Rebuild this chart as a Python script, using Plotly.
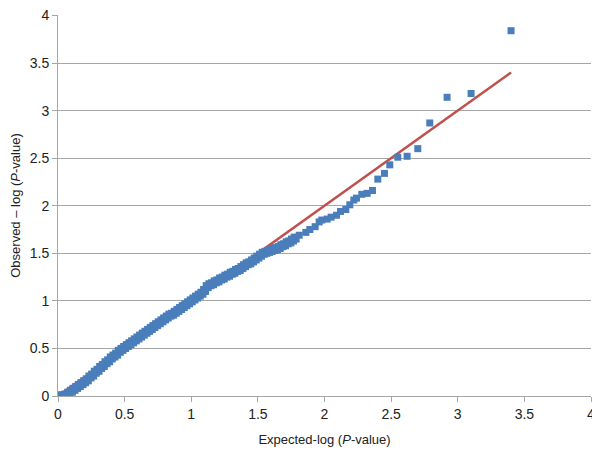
import plotly.graph_objects as go

# Bulk of the QQ points (dense band)
bulk_expected = [0.00, 0.02, 0.04, 0.06, 0.08, 0.10, 0.12, 0.14, 0.16, 0.18,
                 0.20, 0.22, 0.24, 0.26, 0.28, 0.30, 0.32, 0.34, 0.36, 0.38,
                 0.40, 0.42, 0.44, 0.46, 0.48, 0.50, 0.52, 0.54, 0.56, 0.58,
                 0.60, 0.62, 0.64, 0.66, 0.68, 0.70, 0.72, 0.74, 0.76, 0.78,
                 0.80, 0.82, 0.84, 0.86, 0.88, 0.90, 0.92, 0.94, 0.96, 0.98,
                 1.00, 1.02, 1.04, 1.06, 1.08, 1.10, 1.12, 1.14, 1.16, 1.18,
                 1.20, 1.22, 1.24, 1.26, 1.28, 1.30, 1.32, 1.34, 1.36, 1.38,
                 1.40, 1.42, 1.44, 1.46, 1.48, 1.50, 1.52, 1.54, 1.56, 1.58,
                 1.60, 1.62, 1.64, 1.66, 1.68, 1.70, 1.72, 1.74, 1.76, 1.78]
bulk_observed = [0.00, 0.00, 0.00, 0.01, 0.03, 0.05, 0.07, 0.09, 0.11, 0.13,
                 0.15, 0.17, 0.20, 0.22, 0.25, 0.27, 0.30, 0.32, 0.35, 0.37,
                 0.40, 0.42, 0.44, 0.47, 0.49, 0.51, 0.53, 0.55, 0.57, 0.59,
                 0.61, 0.63, 0.65, 0.67, 0.69, 0.71, 0.73, 0.75, 0.77, 0.79,
                 0.81, 0.83, 0.85, 0.86, 0.88, 0.90, 0.92, 0.94, 0.96, 0.98,
                 1.00, 1.02, 1.04, 1.06, 1.08, 1.11, 1.15, 1.17, 1.18, 1.20,
                 1.21, 1.23, 1.24, 1.26, 1.27, 1.29, 1.30, 1.32, 1.33, 1.35,
                 1.37, 1.39, 1.40, 1.42, 1.44, 1.46, 1.48, 1.50, 1.51, 1.52,
                 1.53, 1.54, 1.55, 1.56, 1.58, 1.59, 1.61, 1.62, 1.64, 1.66]

# Sparse upper tail
tail_expected = [1.81, 1.86, 1.89, 1.93, 1.96, 1.98, 2.02, 2.05, 2.09, 2.12,
                 2.16, 2.19, 2.22, 2.24, 2.28, 2.32, 2.36, 2.40, 2.45, 2.49,
                 2.55, 2.62, 2.70, 2.79, 2.92, 3.10, 3.40]
tail_observed = [1.69, 1.72, 1.75, 1.78, 1.83, 1.85, 1.86, 1.88, 1.90, 1.94,
                 1.96, 2.01, 2.06, 2.08, 2.12, 2.13, 2.16, 2.28, 2.34, 2.43,
                 2.51, 2.52, 2.60, 2.87, 3.14, 3.18, 3.84]

line_x = [0.0, 3.4]
line_y = [0.0, 3.4]

tick_vals = [0, 0.5, 1, 1.5, 2, 2.5, 3, 3.5, 4]
tick_text = ["0", "0.5", "1", "1.5", "2", "2.5", "3", "3.5", "4"]

blue = "#4A7EBB"
fig = go.Figure()
fig.add_trace(go.Scatter(x=line_x, y=line_y, mode="lines",
                         line=dict(color="#C0504D", width=2.5),
                         showlegend=False, hoverinfo="skip"))
fig.add_trace(go.Scatter(x=bulk_expected, y=bulk_observed, mode="markers",
                         marker=dict(symbol="square", size=9, color=blue,
                                     line=dict(width=0)),
                         showlegend=False))
fig.add_trace(go.Scatter(x=tail_expected, y=tail_observed, mode="markers",
                         marker=dict(symbol="square", size=7, color=blue,
                                     line=dict(width=0)),
                         showlegend=False))

axis_font = dict(family="Liberation Sans, Arial, sans-serif", size=14, color="#222222")
# The page body has an 8px default margin, so the figure is sized 592x441
fig.update_layout(
    width=592, height=441,
    margin=dict(l=50, r=9, t=7, b=53),
    paper_bgcolor="white", plot_bgcolor="white",
    font=dict(family="Liberation Sans, Arial, sans-serif", size=13, color="#222222"),
    xaxis=dict(range=[0, 4], tickvals=tick_vals, ticktext=tick_text,
               automargin=False, ticklabeloverflow="allow",
               showgrid=False, zeroline=False, showline=True,
               linecolor="#A6A6A6", linewidth=1, ticks="outside", ticklen=5,
               tickcolor="#A6A6A6", tickfont=axis_font,
               title=dict(text="Expected-log (<i>P</i>-value)", font=dict(size=13), standoff=14)),
    yaxis=dict(range=[0, 4.005], tickvals=tick_vals, ticktext=tick_text,
               automargin=False, ticklabeloverflow="allow",
               showgrid=True, gridcolor="#A6A6A6", gridwidth=1,
               zeroline=False, showline=True,
               linecolor="#A6A6A6", linewidth=1, ticks="outside", ticklen=5,
               tickcolor="#A6A6A6", tickfont=axis_font,
               title=dict(text="Observed – log (<i>P</i>-value)", font=dict(size=13), standoff=10)),
)

fig.write_html("out.html")
